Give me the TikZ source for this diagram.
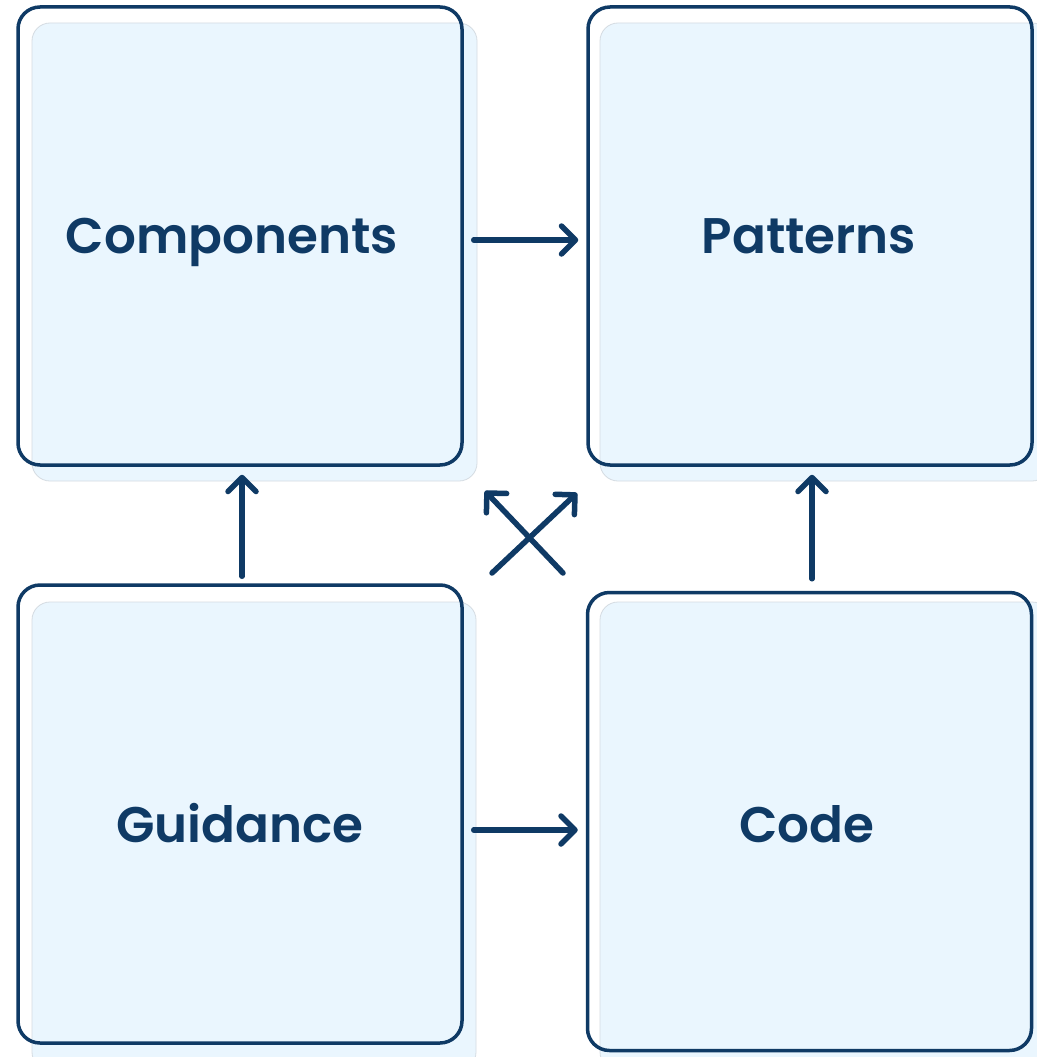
\documentclass[tikz,border=0pt]{standalone}
\usepackage{fontspec}
\usetikzlibrary{arrows.meta}
\newfontfamily\labelfont{Poppins}[UprightFont={* SemiBold}]
\definecolor{navy}{HTML}{0F3A65}
\definecolor{paleblue}{HTML}{EAF6FE}
\definecolor{paleedge}{HTML}{D5DCE2}
\tikzset{
  panel/.style={fill=paleblue, draw=paleedge, line width=0.8pt, rounded corners=18pt},
  frame/.style={draw=navy, line width=3.5pt, rounded corners=22pt, fill=none,
    minimum width=444pt, minimum height=458pt},
  caption/.style={text=navy, font=\labelfont\fontsize{50}{60}\selectfont, inner sep=0pt, anchor=base},
  flow/.style={draw=navy, line width=5.5pt, line cap=round,
    -{Straight Barb[length=14pt, width=28pt, line width=5.5pt, line cap=round, line join=round]}},
}
\begin{document}
\begin{tikzpicture}[x=1pt, y=-1pt]
\useasboundingbox (0,0) rectangle (1036,1057);
\fill[white] (0,0) rectangle (1036,1057);
% pale backing panels, shifted down and right
\draw[panel] (32,23) rectangle (477,481);
\draw[panel] (600,23) rectangle (1050,481);
\draw[panel] (32,602) rectangle (476,1070);
\draw[panel] (600,602) rectangle (1050,1070);
% outlined boxes
\node[frame] (comp) at (240,236) {};
\node[frame] (patt) at (810,236) {};
\node[frame] (guid) at (240,814) {};
\node[frame] (code) at (809.5,821.5) {};
% captions
\node[caption] (tcomp) at (232,253) {Components};
\node[caption] (tpatt) at (809,253) {Patterns};
\node[caption] (tguid) at (240,842) {Guidance};
\node[caption] (tcode) at (807,842) {Code};
% connectors
\draw[flow] ([xshift=10pt]comp.east |- 0,240) -- ([xshift=-8pt]patt.west |- 0,240);
\draw[flow] ([xshift=10pt]guid.east |- 0,830) -- ([xshift=-8pt]code.west |- 0,830);
\draw[flow] ([yshift=7pt]guid.north -| 242,0) -- ([yshift=-8pt]comp.south -| 242,0);
\draw[flow] ([yshift=12pt]code.north -| 812,0) -- ([yshift=-8pt]patt.south -| 812,0);
% crossing connectors between the diagonal boxes
\coordinate (xa) at (563,573);
\coordinate (xb) at (485,491);
\coordinate (xc) at (492,573);
\coordinate (xd) at (577,493);
\draw[flow] (xa) -- (xb);
\draw[flow] (xc) -- (xd);
\end{tikzpicture}
\end{document}
